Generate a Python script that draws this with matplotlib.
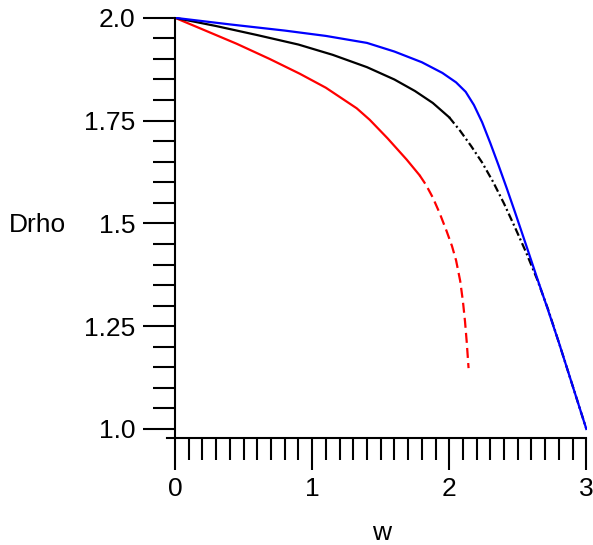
import matplotlib
matplotlib.use("Agg")
import matplotlib.pyplot as plt
from matplotlib.ticker import FixedLocator, MultipleLocator

plt.rcParams['font.family'] = ['Liberation Sans', 'DejaVu Sans']

# red curve (solid part, then dashed part)
red_w = [0, 0.2, 0.449, 0.69, 0.91, 1.1, 1.325, 1.42, 1.55, 1.69, 1.784]
red_d = [2.0, 1.972, 1.937, 1.900, 1.864, 1.830, 1.780, 1.752, 1.707, 1.655, 1.617]
red_w2 = [1.784, 1.83, 1.88, 1.93, 1.98, 2.02, 2.05, 2.08, 2.10, 2.115, 2.128, 2.141]
red_d2 = [1.617, 1.594, 1.563, 1.525, 1.482, 1.445, 1.41, 1.36, 1.31, 1.262, 1.21, 1.148]

# black curve (solid, then dash-dot)
blk_w = [0, 0.3, 0.6, 0.9, 1.15, 1.4, 1.6, 1.75, 1.88, 2.0]
blk_d = [2.0, 1.98, 1.958, 1.935, 1.91, 1.88, 1.85, 1.822, 1.793, 1.758]
blk_w2 = [2.0, 2.08, 2.16, 2.24, 2.32, 2.4, 2.48, 2.56, 2.64, 2.72, 2.8, 2.9, 3.0]
blk_d2 = [1.758, 1.725, 1.688, 1.648, 1.601, 1.548, 1.49, 1.43, 1.365, 1.292,
          1.21, 1.105, 1.0]

# blue curve
blu_w = [0, 0.4, 0.8, 1.1, 1.4, 1.6, 1.8, 1.95, 2.05, 2.12, 2.18, 2.24, 2.30,
         2.36, 2.42, 2.48, 2.56, 2.64, 2.72, 2.8, 2.9, 3.0]
blu_d = [2.0, 1.984, 1.969, 1.956, 1.939, 1.918, 1.892, 1.866, 1.843, 1.82,
         1.788, 1.746, 1.695, 1.641, 1.585, 1.527, 1.448, 1.368, 1.29, 1.21,
         1.105, 1.0]

yticks = [1.0, 1.25, 1.5, 1.75, 2.0]
ylabels = ['1.0', '1.25', '1.5', '1.75', '2.0']
xticks = [0, 1, 2, 3]
xlabels = ['0', '1', '2', '3']

fig = plt.figure(figsize=(5.93, 5.45), dpi=100)
ax = fig.add_axes([0.2813, 0.1963, 0.7086, 0.7725])

lw = 1.6
ax.plot(red_w, red_d, color='red', lw=lw)
ax.plot(red_w2, red_d2, color='red', lw=lw, linestyle=(0, (4.5, 2.3)))
ax.plot(blk_w, blk_d, color='black', lw=lw)
ax.plot(blk_w2, blk_d2, color='black', lw=lw, linestyle=(0, (3.6, 1.4, 0.9, 1.4)))
ax.plot(blu_w, blu_d, color='blue', lw=lw)

ax.set_xlim(-0.06, 3.005)
ax.set_ylim(0.978, 2.002)

ax.spines['top'].set_visible(False)
ax.spines['right'].set_visible(False)
ax.spines['left'].set_position(('data', 0))
ax.spines['left'].set_bounds(0.978, 2.0)
ax.spines['bottom'].set_bounds(-0.06, 3.0)
for s in ['left', 'bottom']:
    ax.spines[s].set_linewidth(1.5)

ax.yaxis.set_major_locator(FixedLocator(yticks))
ax.set_yticklabels(ylabels)
ax.yaxis.set_minor_locator(MultipleLocator(0.05))
ax.xaxis.set_major_locator(FixedLocator(xticks))
ax.set_xticklabels(xlabels)
ax.xaxis.set_minor_locator(MultipleLocator(0.1))

ax.tick_params(axis='both', which='major', direction='out', length=23,
               width=1.5, labelsize=19, pad=5)
ax.tick_params(axis='y', which='major', pad=5.5)
ax.tick_params(axis='both', which='minor', direction='out', length=16,
               width=1.5)

fig.text(9 / 593, (545 - 232) / 545, 'Drho', fontsize=19, va='baseline', ha='left')
fig.text(382 / 593, (545 - 540) / 545, 'w', fontsize=19, va='baseline', ha='center')

fig.savefig('out.png', dpi=100)
